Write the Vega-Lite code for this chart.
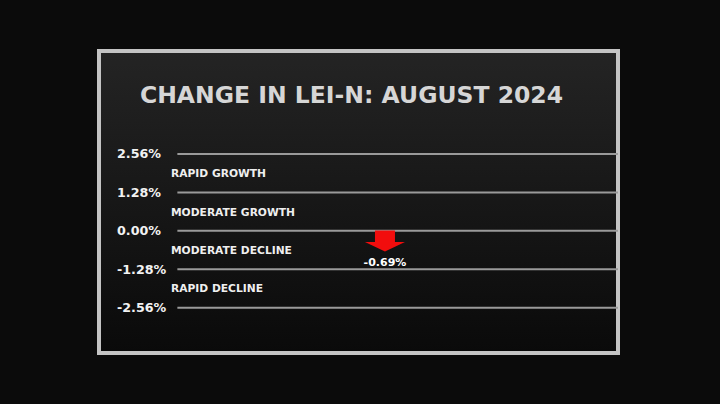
{
  "$schema": "https://vega.github.io/schema/vega-lite/v6.json",
  "width": 519,
  "height": 302,
  "autosize": {"type": "none"},
  "padding": {"left": 99, "top": 51, "right": 102, "bottom": 51},
  "background": "#0b0b0b",
  "config": {
    "view": {
      "stroke": "#c4c4c4",
      "strokeWidth": 4,
      "fill": {"gradient": "linear", "x1": 0, "y1": 0, "x2": 0, "y2": 1, "stops": [{"offset": 0, "color": "#242424"}, {"offset": 1, "color": "#0a0a0a"}]}
    },
    "font": "DejaVu Sans"
  },
  "title": {
    "text": "CHANGE IN LEI-N: AUGUST 2024",
    "font": "DejaVu Sans",
    "fontWeight": "bold",
    "fontSize": 23.5,
    "color": "#d6d6d6",
    "anchor": "middle",
    "dx": -7,
    "baseline": "alphabetic",
    "offset": -75
  },
  "datasets": {
    "levels": [
      {"value": 2.56, "label": "2.56%"},
      {"value": 1.28, "label": "1.28%"},
      {"value": 0, "label": "0.00%"},
      {"value": -1.28, "label": "-1.28%"},
      {"value": -2.56, "label": "-2.56%"}
    ],
    "zones": [
      {"mid": 1.92, "zone": "RAPID GROWTH"},
      {"mid": 0.64, "zone": "MODERATE GROWTH"},
      {"mid": -0.64, "zone": "MODERATE DECLINE"},
      {"mid": -1.92, "zone": "RAPID DECLINE"}
    ],
    "change": [
      {"month": "August 2024", "change": -0.69, "label": "-0.69%"}
    ]
  },
  "layer": [
    {
      "data": {"name": "levels"},
      "mark": {"type": "rule", "color": "#9a9a9a", "strokeWidth": 2},
      "encoding": {
        "y": {
          "field": "value",
          "type": "quantitative",
          "scale": {"domain": [-4.069, 5.991], "nice": false, "zero": false},
          "axis": {
            "values": [2.56, 1.28, 0, -1.28, -2.56],
            "labelExpr": "datum.value < 0 ? '-' + format(abs(datum.value), '.2f') + '%' : format(datum.value, '.2f') + '%'",
            "orient": "left",
            "offset": -17.5,
            "labelAlign": "left",
            "labelBaseline": "middle",
            "labelPadding": 0,
            "ticks": false,
            "domain": false,
            "grid": false,
            "title": null,
            "labelFont": "DejaVu Sans",
            "labelFontWeight": "bold",
            "labelFontSize": 12.7,
            "labelColor": "#f2f2f2",
            "labelOverlap": false,
            "labelFlush": false,
            "labelBound": false
          }
        },
        "x": {"datum": 15.1, "type": "quantitative", "scale": {"domain": [0, 100]}, "axis": null},
        "x2": {"datum": 100}
      }
    },
    {
      "data": {"name": "zones"},
      "mark": {"type": "text", "align": "left", "baseline": "middle", "dy": 1, "font": "DejaVu Sans", "fontWeight": "bold", "fontSize": 10.7, "color": "#efefef"},
      "encoding": {
        "y": {"field": "mid", "type": "quantitative"},
        "x": {"datum": 13.87, "type": "quantitative"},
        "text": {"field": "zone"}
      }
    },
    {
      "data": {"name": "change"},
      "mark": {"type": "point", "shape": "M 0 0 L -1 -0.48 L -0.5 -0.48 L -0.5 -1.05 L 0.5 -1.05 L 0.5 -0.48 L 1 -0.48 Z", "size": 1600, "filled": true, "color": "#f20d0d", "opacity": 1, "strokeWidth": 0},
      "encoding": {
        "y": {"field": "change", "type": "quantitative"},
        "x": {"datum": 55.1, "type": "quantitative"}
      }
    },
    {
      "data": {"name": "change"},
      "mark": {"type": "text", "align": "center", "baseline": "middle", "dy": 11, "font": "DejaVu Sans", "fontWeight": "bold", "fontSize": 11, "color": "#ffffff"},
      "encoding": {
        "y": {"field": "change", "type": "quantitative"},
        "x": {"datum": 55.1, "type": "quantitative"},
        "text": {"field": "label"}
      }
    }
  ]
}
